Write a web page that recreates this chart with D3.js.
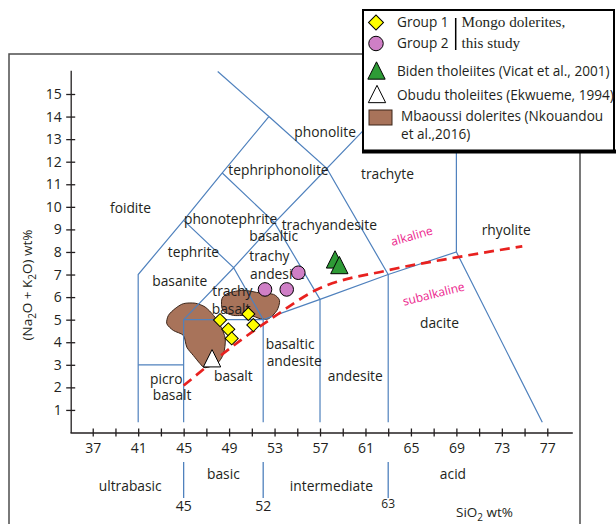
<!DOCTYPE html>
<html><head><meta charset="utf-8">
<script src="https://cdn.jsdelivr.net/npm/d3@7"></script>
<style>
body{margin:0;background:#fff}
svg{display:block}
text{font-family:"Open Sans",sans-serif;fill:#231f20}
</style>
</head><body>
<svg id="c" width="616" height="524"></svg>
<script>
// ---------- data ----------
const xTicks = d3.range(37, 78, 2);
const xLabels = [37, 41, 45, 49, 53, 57, 61, 65, 69, 73, 77];
const yTicks = d3.range(1, 16);

// TAS field boundaries (SiO2, Na2O+K2O)
const fieldLines = [
  [[41, 0.45], [41, 7], [45, 9.4], [48.4, 11.5], [52.5, 14]],
  [[52.5, 14], [48, 16]],
  [[41, 3], [45, 3]],
  [[45, 0.45], [45, 5]],
  [[52, 0.45], [52, 5]],
  [[57, 0.45], [57, 5.9]],
  [[63, 0.45], [63, 7]],
  [[45, 5], [52, 5], [57, 5.9], [63, 7], [69, 8], [76.56, 0.45]],
  [[69, 8], [69, 13]],
  [[45, 5], [49.4, 7.3], [52, 5]],
  [[45, 9.4], [49.4, 7.3], [53, 9.3], [57, 5.9]],
  [[48.4, 11.5], [53, 9.3], [57.6, 11.7], [63, 7]],
  [[52.5, 14], [57.6, 11.7], [61.6, 13.8]]
];

// alkaline / subalkaline divide
const alkDivide = [[45.0, 2.08], [50.0, 4.08], [52.9, 5.11], [56.6, 6.30], [62.9, 7.18], [69.1, 7.77], [74.8, 8.25]];

// field names [text, SiO2, alkali]
const fieldNames = [
  ["foidite", 38.52, 9.73], ["phonolite", 54.74, 13.09], ["tephriphonolite", 48.93, 11.43],
  ["phonotephrite", 45.03, 9.26], ["trachyandesite", 53.63, 8.97],
  ["basaltic", 50.78, 8.48], ["trachy", 50.78, 7.62], ["andesite", 50.84, 6.80],
  ["tephrite", 43.60, 7.78], ["basanite", 42.24, 6.51],
  ["trachy", 47.52, 6.05], ["basalt", 47.47, 5.25],
  ["basaltic", 52.22, 3.70], ["andesite", 52.31, 2.95],
  ["basalt", 47.67, 2.28], ["picro", 42.04, 2.15], ["basalt", 42.28, 1.46],
  ["andesite", 57.68, 2.28], ["dacite", 65.80, 4.63], ["rhyolite", 71.23, 8.75],
  ["trachyte", 60.61, 11.25]
];
const seriesNames = [["alkaline", 65.07, 8.71, -16], ["subalkaline", 67.0, 6.14, -14]];

// samples
const group1 = [[48.20, 4.98], [48.93, 4.57], [49.23, 4.17], [50.69, 5.25], [51.13, 4.76]];
const group2 = [[52.16, 6.34], [54.07, 6.34], [55.09, 7.08]];
const biden = [[58.32, 7.67], [58.70, 7.42]];
const obudu = [[47.50, 3.29]];
const mbaoussiA = [[44.98, 5.71], [46.01, 5.73], [46.89, 5.56], [47.63, 5.19], [48.22, 4.75], [48.66, 4.16],
  [48.51, 3.49], [47.93, 3.05], [46.89, 2.87], [46.45, 3.05], [45.86, 3.41], [45.28, 3.78], [44.98, 4.30],
  [44.10, 4.52], [43.52, 4.82], [43.66, 5.19], [44.25, 5.49]];
const mbaoussiB = [[48.37, 5.93], [48.95, 6.18], [50.27, 6.30], [51.74, 6.18], [52.91, 6.12], [53.44, 5.85],
  [53.21, 5.41], [52.47, 5.04], [51.74, 5.04], [50.86, 5.19], [49.39, 5.19], [48.45, 5.41]];

const classDivides = [45, 52, 63];
const classNames = [["ultrabasic", 40.3], ["basic", 48.5], ["intermediate", 58.0], ["acid", 68.7]];

// ---------- drawing ----------
const svg = d3.select("#c");
const x = d3.scaleLinear().domain([35, 79.2]).range([70, 572.3]);
const y = d3.scaleLinear().domain([0, 16.05]).range([432.5, 70.3]);
const blue = "#4f81bd";

// frame
svg.append("rect").attr("x", 9).attr("y", 54).attr("width", 571).attr("height", 490)
  .attr("fill", "none").attr("stroke", "#4d4d4d").attr("stroke-width", 1.5);

// Mbaoussi blobs
const blob = d3.line().x(d => x(d[0])).y(d => y(d[1])).curve(d3.curveCardinalClosed.tension(0.2));
[mbaoussiA, mbaoussiB].forEach(b => svg.append("path").attr("d", blob(b))
  .attr("fill", "#a8735a").attr("stroke", "#3a2418").attr("stroke-width", 1));

// field lines
const line = d3.line().x(d => x(d[0])).y(d => y(d[1]));
svg.append("g").selectAll("path").data(fieldLines).join("path")
  .attr("d", line).attr("fill", "none").attr("stroke", blue).attr("stroke-width", 1.2);

// alkaline divide
svg.append("path").attr("d", d3.line().x(d => x(d[0])).y(d => y(d[1])).curve(d3.curveMonotoneX)(alkDivide))
  .attr("fill", "none").attr("stroke", "#e8211f").attr("stroke-width", 2.7).attr("stroke-dasharray", "10,6");

// field labels
svg.append("g").selectAll("text").data(fieldNames).join("text")
  .attr("x", d => x(d[1])).attr("y", d => y(d[2])).attr("font-size", 13.8).text(d => d[0]);
svg.append("g").selectAll("text").data(seriesNames).join("text")
  .attr("transform", d => `translate(${x(d[1])},${y(d[2])}) rotate(${d[3]})`)
  .attr("text-anchor", "middle").attr("dy", "0.35em").attr("font-size", 12)
  .style("fill", "#ec1c8c").text(d => d[0]);

// axes
const xAxis = svg.append("g").attr("transform", `translate(0,${y(0)})`)
  .call(d3.axisBottom(x).tickValues(xTicks).tickSizeOuter(0)
    .tickFormat(d => xLabels.includes(d) ? d : ""));
xAxis.selectAll(".tick line").attr("y1", -4).attr("y2", 4);
xAxis.selectAll(".tick text").attr("y", 20.5).attr("dy", null).attr("font-size", 14)
  .attr("font-family", "'Open Sans',sans-serif").style("fill", "#231f20");
const yAxis = svg.append("g").attr("transform", `translate(70.7,0)`)
  .call(d3.axisLeft(y).tickValues(yTicks).tickSizeOuter(0));
yAxis.selectAll(".tick line").attr("x1", -4.5).attr("x2", 4.5);
yAxis.selectAll(".tick text").attr("x", -9).attr("font-size", 14)
  .attr("font-family", "'Open Sans',sans-serif").style("fill", "#231f20");
svg.selectAll(".domain, .tick line").attr("stroke", "#231f20").attr("stroke-width", 1.3);

// y title
const yt = svg.append("text").attr("transform", "translate(32,285) rotate(-90)")
  .attr("text-anchor", "middle").attr("font-size", 13.5);
yt.append("tspan").text("(Na");
yt.append("tspan").attr("dy", 4).attr("font-size", 10).text("2");
yt.append("tspan").attr("dy", -4).text("O + K");
yt.append("tspan").attr("dy", 4).attr("font-size", 10).text("2");
yt.append("tspan").attr("dy", -4).text("O) wt%");

// classification below axis
svg.append("g").selectAll("line").data(classDivides).join("line")
  .attr("x1", d => x(d)).attr("x2", d => x(d)).attr("y1", 462).attr("y2", 498)
  .attr("stroke", blue).attr("stroke-width", 1.3);
svg.append("g").selectAll("text").data(classDivides).join("text")
  .attr("x", d => x(d)).attr("y", (d, i) => i === 2 ? 508 : 510.5).attr("text-anchor", "middle")
  .attr("font-size", (d, i) => i === 2 ? 12 : 14).text(d => d);
svg.append("g").selectAll("text").data(classNames).join("text")
  .attr("x", d => x(d[1])).attr("y", (d, i) => i % 2 ? 479 : 491).attr("text-anchor", "middle")
  .attr("font-size", 13.8).text(d => d[0]);
const xt = svg.append("text").attr("x", 456).attr("y", 517).attr("font-size", 13.5);
xt.append("tspan").text("SiO");
xt.append("tspan").attr("dy", 4).attr("font-size", 10).text("2");
xt.append("tspan").attr("dy", -4).text(" wt%");

// markers
const tri = {draw(ctx, size) { const w = Math.sqrt(size * 2) / 2; ctx.moveTo(0, -w); ctx.lineTo(w, w); ctx.lineTo(-w, w); ctx.closePath(); }};
const diamond = d3.symbol(d3.symbolSquare, 85);
const circ = d3.symbol(d3.symbolCircle, 145);
const triS = d3.symbol(tri, 150);
svg.append("g").selectAll("path").data(obudu).join("path")
  .attr("transform", d => `translate(${x(d[0])},${y(d[1])})`).attr("d", triS())
  .attr("fill", "#fff").attr("stroke", "#000").attr("stroke-width", 1);
svg.append("g").selectAll("path").data(biden).join("path")
  .attr("transform", d => `translate(${x(d[0])},${y(d[1])})`).attr("d", triS())
  .attr("fill", "#2e9b36").attr("stroke", "#000").attr("stroke-width", 1);
svg.append("g").selectAll("path").data(group2).join("path")
  .attr("transform", d => `translate(${x(d[0])},${y(d[1])})`).attr("d", circ())
  .attr("fill", "#cf7fc6").attr("stroke", "#000").attr("stroke-width", 1);
svg.append("g").selectAll("path").data(group1).join("path")
  .attr("transform", d => `translate(${x(d[0])},${y(d[1])}) rotate(45)`).attr("d", diamond())
  .attr("fill", "#ffff00").attr("stroke", "#000").attr("stroke-width", 1);

// legend
const lg = svg.append("g");
lg.append("rect").attr("x", 363).attr("y", 10).attr("width", 251).attr("height", 141)
  .attr("fill", "#fff").attr("stroke", "#000").attr("stroke-width", 2);
lg.append("line").attr("x1", 362).attr("x2", 616).attr("y1", 151.5).attr("y2", 151.5)
  .attr("stroke", "#000").attr("stroke-width", 4);
lg.append("path").attr("transform", "translate(376,22.5) rotate(45)").attr("d", d3.symbol(d3.symbolSquare, 112)())
  .attr("fill", "#ffff00").attr("stroke", "#000");
lg.append("path").attr("transform", "translate(376,43.5)").attr("d", d3.symbol(d3.symbolCircle, 165)())
  .attr("fill", "#cf7fc6").attr("stroke", "#000");
lg.append("path").attr("transform", "translate(376.5,70.5)").attr("d", d3.symbol(tri, 150)())
  .attr("fill", "#2e9b36").attr("stroke", "#000");
lg.append("path").attr("transform", "translate(377,94)").attr("d", d3.symbol(tri, 150)())
  .attr("fill", "#fff").attr("stroke", "#000");
lg.append("rect").attr("x", 369).attr("y", 110).attr("width", 23).attr("height", 15)
  .attr("fill", "#a8735a").attr("stroke", "#3a2418");
const lt = [["Group 1", 397, 27], ["Group 2", 397, 47.5], ["Biden tholeiites (Vicat et al., 2001)", 397, 76],
  ["Obudu tholeiites (Ekwueme, 1994)", 397, 100], ["Mbaoussi dolerites (Nkouandou", 401, 121], ["et al.,2016)", 401, 138.5]];
lg.selectAll("text.l").data(lt).join("text").attr("class", "l")
  .attr("x", d => d[1]).attr("y", d => d[2]).attr("font-size", 13.6).text(d => d[0]);
lg.append("line").attr("x1", 455.7).attr("x2", 455.7).attr("y1", 18).attr("y2", 50)
  .attr("stroke", "#000").attr("stroke-width", 1.5);
lg.selectAll("text.s").data([["Mongo dolerites,", 27], ["this study", 47.5]]).join("text").attr("class", "s")
  .attr("x", 461.5).attr("y", d => d[1]).attr("font-size", 15.2)
  .style("font-family", "'Liberation Serif',serif").text(d => d[0]);
</script>
</body></html>
